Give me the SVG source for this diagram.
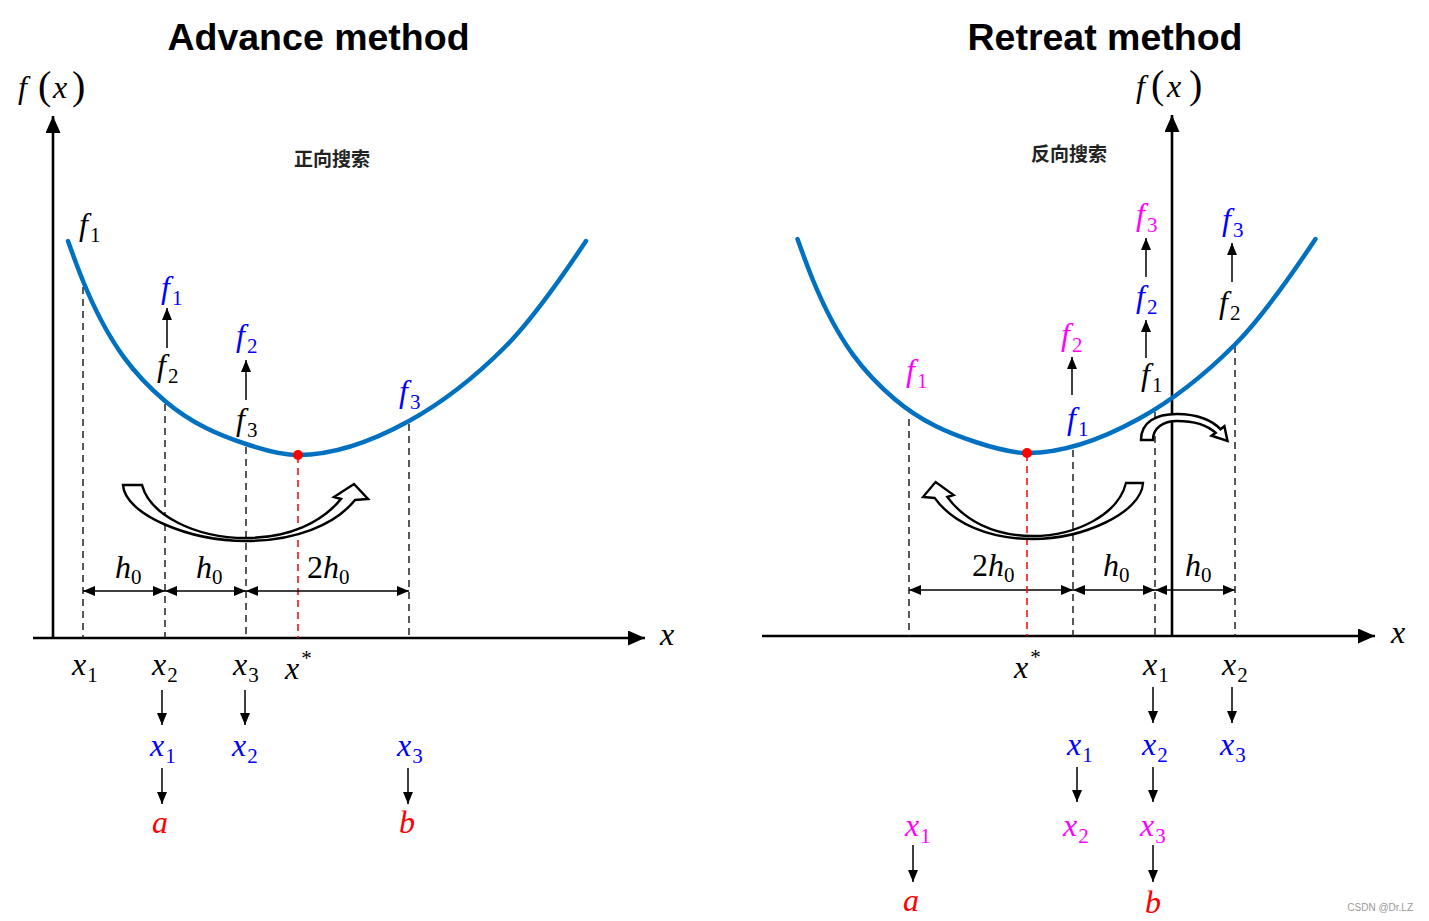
<svg xmlns="http://www.w3.org/2000/svg" xmlns:xlink="http://www.w3.org/1999/xlink" width="1429" height="921" viewBox="0 0 1429 921">
<style>
.title{font-family:"Liberation Sans",Arial,sans-serif;font-weight:bold;font-size:37.5px;fill:#000}
.m{font-family:"Liberation Serif","Times New Roman",serif;font-style:italic;font-size:32px}
.s{font-style:normal;font-size:21px}
.r{font-family:"Liberation Serif","Times New Roman",serif;font-style:normal;font-size:40px}
.cn{font-family:"Noto Sans CJK SC","Noto Sans",sans-serif;font-weight:bold;font-size:19px;fill:#222}
.k{fill:#000}.b{fill:#0000FF}.p{fill:#FF00FF}.red{fill:#FF0000}
.axis{stroke:#000;stroke-width:2.6;fill:none}
.curve{stroke:#0070C0;stroke-width:4.5;fill:none;stroke-linecap:round}
.dash{stroke:#222;stroke-width:1.5;stroke-dasharray:7 5;fill:none}
.rdash{stroke:#FF0000;stroke-width:1.5;stroke-dasharray:7 5;fill:none}
.arr{stroke:#000;stroke-width:1.5;fill:none;marker-end:url(#ah)}
.dim{stroke:#000;stroke-width:1.5;fill:none;marker-start:url(#ah);marker-end:url(#ah)}
.hollow{fill:#fff;stroke:#000;stroke-width:2.5;stroke-linejoin:miter;vector-effect:non-scaling-stroke}
</style>
<defs>
<marker id="ah" viewBox="0 0 12 10" refX="12" refY="5" markerWidth="12" markerHeight="10" orient="auto-start-reverse" markerUnits="userSpaceOnUse"><path d="M0,0 L12,5 L0,10 Z" fill="#000"/></marker>
<marker id="axh" viewBox="0 0 17 15" refX="17" refY="7.5" markerWidth="17" markerHeight="15" orient="auto" markerUnits="userSpaceOnUse"><path d="M0,0 L17,7.5 L0,15 Z" fill="#000"/></marker>
<path id="curvePath" d="M68,241 C73,255 78,268.75 83,281 C110.33,347.97 137.67,377.77 165,401 C192,423.95 219,435.09 246,444 C263.33,449.72 280.67,455 298,455 C335,455 372,441.35 409,421 C441,403.4 473,379 505,347 C532,320 559,281.5 586,241"/>
<path id="bigArrow" d="M123,485 C125,515 190,541 246,541 C295,541 335,525 355,500 L368,499 L354,484 L334,497 L341,499 C322,522 290,538 246,538 C195,538 150,515 142,485 Z"/>
</defs>

<rect width="1429" height="921" fill="#fff"/>

<!-- titles -->
<g id="titles">
<text class="title" x="318.5" y="50" text-anchor="middle">Advance method</text>
<text class="title" x="1105" y="50" text-anchor="middle">Retreat method</text>
</g>

<!-- ================= LEFT PANEL ================= -->
<g id="left-axes">
<line class="axis" x1="33" y1="638" x2="645" y2="638" marker-end="url(#axh)"/>
<line class="axis" x1="53" y1="639" x2="53" y2="116" marker-end="url(#axh)"/>
<text class="m k" x="18" y="98" font-size="36">f</text>
<text class="r k" x="38" y="99">(</text>
<text class="m k" x="53" y="98" font-size="36">x</text>
<text class="r k" x="72" y="99">)</text>
<text class="m k" x="660" y="645">x</text>
</g>

<g id="left-guides">
<line class="dash" x1="83" y1="287" x2="83" y2="638"/>
<line class="dash" x1="165" y1="404" x2="165" y2="638"/>
<line class="dash" x1="246" y1="447" x2="246" y2="638"/>
<line class="rdash" x1="298" y1="456" x2="298" y2="638"/>
<line class="dash" x1="409" y1="424" x2="409" y2="638"/>
</g>

<g id="left-curve">
<use xlink:href="#curvePath" class="curve"/>
<circle cx="298" cy="455" r="5" fill="#FF0000"/>
</g>

<g id="left-hollow-arrow">
<use xlink:href="#bigArrow" class="hollow"/>
</g>

<g id="connectors">
<!-- left dimension lines -->
<line class="dim" x1="83" y1="591" x2="165" y2="591"/>
<line class="dim" x1="165" y1="591" x2="246" y2="591"/>
<line class="dim" x1="246" y1="591" x2="409" y2="591"/>
<!-- left up arrows -->
<line class="arr" x1="167" y1="348" x2="167" y2="308"/>
<line class="arr" x1="246" y1="400" x2="246" y2="360"/>
<!-- left down arrows -->
<line class="arr" x1="162" y1="690" x2="162" y2="725"/>
<line class="arr" x1="245" y1="690" x2="245" y2="725"/>
<line class="arr" x1="162" y1="768" x2="162" y2="804"/>
<line class="arr" x1="408" y1="768" x2="408" y2="804"/>
<!-- right dimension lines -->
<line class="dim" x1="909" y1="590" x2="1073" y2="590"/>
<line class="dim" x1="1073" y1="590" x2="1155" y2="590"/>
<line class="dim" x1="1155" y1="590" x2="1235" y2="590"/>
<!-- right up arrows -->
<line class="arr" x1="1072" y1="395" x2="1072" y2="357"/>
<line class="arr" x1="1146" y1="358" x2="1146" y2="320"/>
<line class="arr" x1="1146" y1="277" x2="1146" y2="238"/>
<line class="arr" x1="1232" y1="282" x2="1232" y2="243"/>
<!-- right down arrows -->
<line class="arr" x1="1153" y1="687" x2="1153" y2="723"/>
<line class="arr" x1="1232" y1="687" x2="1232" y2="723"/>
<line class="arr" x1="1077" y1="767" x2="1077" y2="802"/>
<line class="arr" x1="1153" y1="767" x2="1153" y2="802"/>
<line class="arr" x1="913" y1="845" x2="913" y2="882"/>
<line class="arr" x1="1153" y1="845" x2="1153" y2="882"/>
</g>

<g id="left-labels">
<text class="cn" x="332" y="166" text-anchor="middle">正向搜索</text>
<text class="m k" x="79" y="235">f<tspan class="s" dx="2" dy="7">1</tspan></text>
<text class="m b" x="161" y="298">f<tspan class="s" dx="2" dy="7">1</tspan></text>
<text class="m k" x="157" y="376">f<tspan class="s" dx="2" dy="7">2</tspan></text>
<text class="m b" x="236" y="346">f<tspan class="s" dx="2" dy="7">2</tspan></text>
<text class="m k" x="236" y="430">f<tspan class="s" dx="2" dy="7">3</tspan></text>
<text class="m b" x="399" y="402">f<tspan class="s" dx="2" dy="7">3</tspan></text>
<text class="m k" x="115" y="578">h<tspan class="s" dy="6">0</tspan></text>
<text class="m k" x="196" y="578">h<tspan class="s" dy="6">0</tspan></text>
<text class="m k" x="307" y="578"><tspan font-style="normal">2</tspan>h<tspan class="s" dy="6">0</tspan></text>
<text class="m k" x="72" y="675">x<tspan class="s" dx="1" dy="7">1</tspan></text>
<text class="m k" x="152" y="675">x<tspan class="s" dx="1" dy="7">2</tspan></text>
<text class="m k" x="233" y="675">x<tspan class="s" dx="1" dy="7">3</tspan></text>
<text class="m k" x="285" y="679">x<tspan class="s" dx="2" dy="-14">*</tspan></text>
<text class="m b" x="150" y="756">x<tspan class="s" dx="1" dy="7">1</tspan></text>
<text class="m b" x="232" y="756">x<tspan class="s" dx="1" dy="7">2</tspan></text>
<text class="m b" x="397" y="756">x<tspan class="s" dx="1" dy="7">3</tspan></text>
<text class="m red" x="152" y="833">a</text>
<text class="m red" x="399" y="833">b</text>
</g>

<!-- ================= RIGHT PANEL ================= -->
<g id="right-axes">
<line class="axis" x1="762" y1="636" x2="1375" y2="636" marker-end="url(#axh)"/>
<line class="axis" x1="1172" y1="637" x2="1172" y2="115" marker-end="url(#axh)"/>
<text class="m k" x="1136" y="97" font-size="36">f</text>
<text class="r k" x="1151" y="98">(</text>
<text class="m k" x="1167" y="97" font-size="36">x</text>
<text class="r k" x="1189" y="98">)</text>
<text class="m k" x="1391" y="643">x</text>
</g>

<g id="right-guides">
<line class="dash" x1="909" y1="419" x2="909" y2="636"/>
<line class="rdash" x1="1027" y1="454" x2="1027" y2="636"/>
<line class="dash" x1="1073" y1="450" x2="1073" y2="636"/>
<line class="dash" x1="1155" y1="412" x2="1155" y2="636"/>
<line class="dash" x1="1235" y1="346" x2="1235" y2="636"/>
</g>

<g id="right-curve">
<use xlink:href="#curvePath" class="curve" transform="translate(729.5,-2)"/>
<circle cx="1027" cy="453" r="5" fill="#FF0000"/>
</g>

<g id="right-hollow-arrows">
<use xlink:href="#bigArrow" class="hollow" transform="translate(1253.5,-2) scale(-0.898,1)"/>
<path class="hollow" d="M1141,440 C1141,422 1156,414 1177,414 C1198,414 1213,421 1220.4,429.2 L1224.4,426.2 L1227.5,441 L1211.6,435.8 L1215.6,432.8 C1207,425 1193,421 1177,421 C1163,421 1153,428 1153,440 Z"/>
</g>

<g id="right-labels">
<text class="cn" x="1069" y="161" text-anchor="middle">反向搜索</text>
<text class="m p" x="1136" y="225">f<tspan class="s" dx="2" dy="7">3</tspan></text>
<text class="m b" x="1222" y="230">f<tspan class="s" dx="2" dy="7">3</tspan></text>
<text class="m b" x="1136" y="307">f<tspan class="s" dx="2" dy="7">2</tspan></text>
<text class="m k" x="1219" y="313">f<tspan class="s" dx="2" dy="7">2</tspan></text>
<text class="m k" x="1141" y="385">f<tspan class="s" dx="2" dy="7">1</tspan></text>
<text class="m p" x="906" y="381">f<tspan class="s" dx="2" dy="7">1</tspan></text>
<text class="m p" x="1061" y="345">f<tspan class="s" dx="2" dy="7">2</tspan></text>
<text class="m b" x="1067" y="429">f<tspan class="s" dx="2" dy="7">1</tspan></text>
<text class="m k" x="972" y="576"><tspan font-style="normal">2</tspan>h<tspan class="s" dy="6">0</tspan></text>
<text class="m k" x="1103" y="576">h<tspan class="s" dy="6">0</tspan></text>
<text class="m k" x="1185" y="576">h<tspan class="s" dy="6">0</tspan></text>
<text class="m k" x="1014" y="678">x<tspan class="s" dx="2" dy="-14">*</tspan></text>
<text class="m k" x="1143" y="675">x<tspan class="s" dx="1" dy="7">1</tspan></text>
<text class="m k" x="1222" y="675">x<tspan class="s" dx="1" dy="7">2</tspan></text>
<text class="m b" x="1067" y="755">x<tspan class="s" dx="1" dy="7">1</tspan></text>
<text class="m b" x="1142" y="755">x<tspan class="s" dx="1" dy="7">2</tspan></text>
<text class="m b" x="1220" y="755">x<tspan class="s" dx="1" dy="7">3</tspan></text>
<text class="m p" x="905" y="836">x<tspan class="s" dx="1" dy="7">1</tspan></text>
<text class="m p" x="1063" y="836">x<tspan class="s" dx="1" dy="7">2</tspan></text>
<text class="m p" x="1140" y="836">x<tspan class="s" dx="1" dy="7">3</tspan></text>
<text class="m red" x="903" y="911">a</text>
<text class="m red" x="1145" y="913">b</text>
</g>

<g id="watermark">
<text x="1413" y="911" text-anchor="end" font-family="'Liberation Sans',Arial,sans-serif" font-size="10" fill="#999">CSDN @Dr.LZ</text>
</g>
</svg>
